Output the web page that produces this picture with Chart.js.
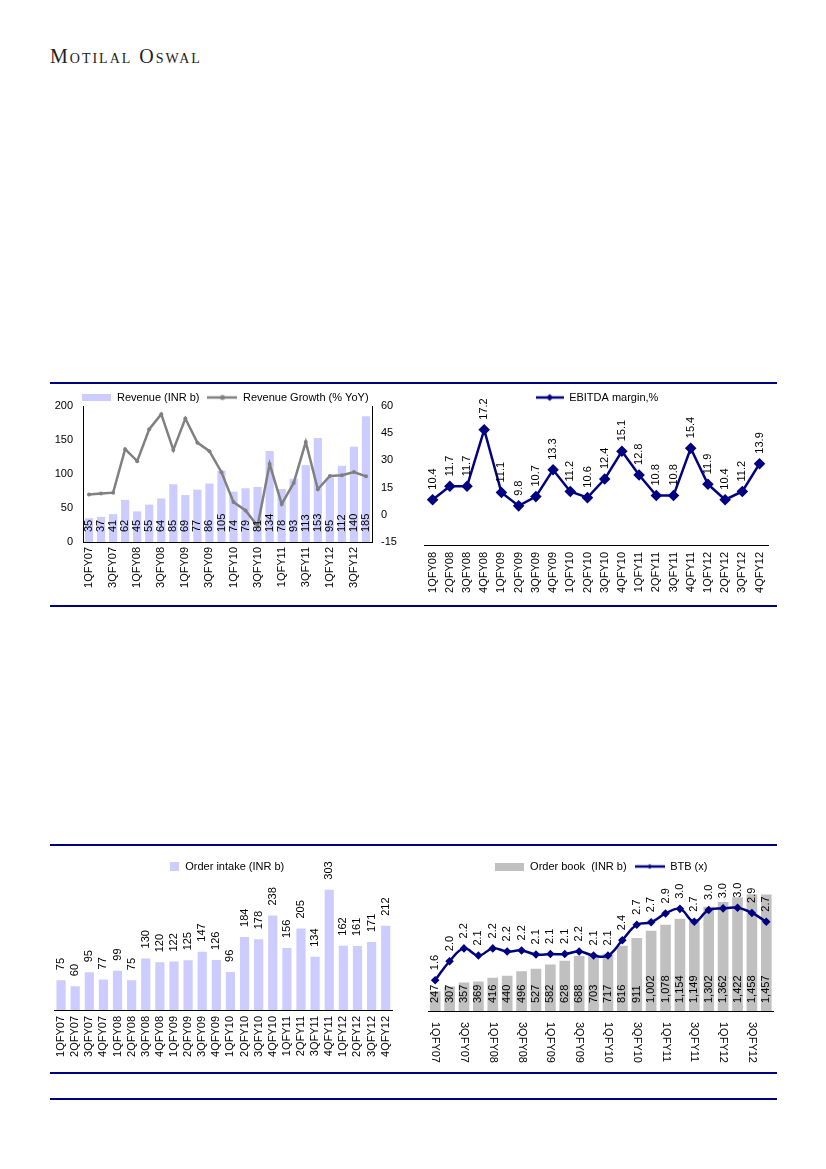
<!DOCTYPE html>
<html>
<head>
<meta charset="utf-8">
<script src="https://cdn.jsdelivr.net/npm/chart.js@4.4.0/dist/chart.umd.min.js"></script>
<style>
  body { margin: 0; background: #fff; }
  #page { position: relative; width: 826px; height: 1169px; background: #fff; overflow: hidden; }
  .brand { position: absolute; left: 50px; top: 45px; font-family: "Liberation Serif", serif; font-size: 20px; font-variant: small-caps; letter-spacing: 2px; color: #222; }
  .rule { position: absolute; left: 50px; width: 727px; height: 1.5px; background: #000080; z-index: 2; }
  canvas { position: absolute; }
</style>
</head>
<body>
<div id="page">
  <div class="brand">Motilal Oswal</div>
  <div class="rule" style="top:382px"></div>
  <div class="rule" style="top:605px"></div>
  <div class="rule" style="top:844px"></div>
  <div class="rule" style="top:1072px"></div>
  <div class="rule" style="top:1098px"></div>
  <canvas id="revChart" width="360" height="226" style="left:45px;top:380px;width:360px;height:226px"></canvas>
  <canvas id="marginChart" width="365" height="226" style="left:415px;top:380px;width:365px;height:226px"></canvas>
  <canvas id="intakeChart" width="360" height="222" style="left:45px;top:849px;width:360px;height:222px"></canvas>
  <canvas id="bookChart" width="365" height="222" style="left:415px;top:849px;width:365px;height:222px"></canvas>
</div>
<script>
// quarters FY07 - FY12
const quarters = ['1QFY07', '2QFY07', '3QFY07', '4QFY07', '1QFY08', '2QFY08', '3QFY08', '4QFY08',
  '1QFY09', '2QFY09', '3QFY09', '4QFY09', '1QFY10', '2QFY10', '3QFY10', '4QFY10',
  '1QFY11', '2QFY11', '3QFY11', '4QFY11', '1QFY12', '2QFY12', '3QFY12', '4QFY12'];
const marginQuarters = ['1QFY08', '2QFY08', '3QFY08', '4QFY08', '1QFY09', '2QFY09', '3QFY09', '4QFY09',
  '1QFY10', '2QFY10', '3QFY10', '4QFY10', '1QFY11', '2QFY11', '3QFY11', '4QFY11',
  '1QFY12', '2QFY12', '3QFY12', '4QFY12'];

const revenue = [35, 37, 41, 62, 45, 55, 64, 85, 69, 77, 86, 105, 74, 79, 81, 134, 78, 93, 113, 153, 95, 112, 140, 185];
const revenueGrowth = [11.2, 11.7, 12.2, 36.2, 29.6, 47.2, 55.5, 35.8, 53.1, 39.8, 35.1, 23.5,
  7.0, 2.4, -6.2, 28.0, 5.9, 17.6, 40.1, 14.1, 21.4, 21.8, 23.6, 21.2];
const ebitdaMargin = [10.4, 11.7, 11.7, 17.2, 11.1, 9.8, 10.7, 13.3, 11.2, 10.6, 12.4, 15.1,
  12.8, 10.8, 10.8, 15.4, 11.9, 10.4, 11.2, 13.9];
const orderIntake = [75, 60, 95, 77, 99, 75, 130, 120, 122, 125, 147, 126, 96, 184, 178, 238, 156, 205, 134, 303, 162, 161, 171, 212];
const orderBook = [247, 307, 357, 369, 416, 440, 496, 527, 582, 628, 688, 703, 717, 816, 911, 1002, 1078, 1154, 1149, 1302, 1362, 1422, 1458, 1457];
const btb = [1.60, 1.97, 2.22, 2.08, 2.22, 2.16, 2.18, 2.10, 2.11, 2.11, 2.16, 2.08,
  2.08, 2.38, 2.68, 2.73, 2.90, 2.99, 2.74, 2.97, 3.00, 3.01, 2.91, 2.74];

const LAV = '#ccccff';
const GREY_BAR = '#c0c0c0';
const NAVY = '#000080';
const FONT = '"Liberation Sans", Arial, sans-serif';

Chart.defaults.font.family = FONT;
Chart.defaults.font.size = 11;
Chart.defaults.color = '#000';
Chart.defaults.animation = false;
Chart.defaults.plugins.tooltip.enabled = false;

// legend icons
function boxIcon(color, w, h) {
  const c = document.createElement('canvas');
  c.width = w; c.height = h;
  const g = c.getContext('2d');
  g.fillStyle = color;
  g.fillRect(0, 0, w, h);
  return c;
}
function lineIcon(color, w, marker, r) {
  const c = document.createElement('canvas');
  c.width = w; c.height = 10;
  const g = c.getContext('2d');
  g.strokeStyle = color; g.lineWidth = 2.5;
  g.beginPath(); g.moveTo(0, 5); g.lineTo(w, 5); g.stroke();
  g.fillStyle = color;
  g.beginPath();
  if (marker === 'diamond') {
    g.moveTo(w / 2, 5 - r); g.lineTo(w / 2 + r, 5); g.lineTo(w / 2, 5 + r); g.lineTo(w / 2 - r, 5); g.closePath();
  } else {
    g.arc(w / 2, 5, r, 0, Math.PI * 2);
  }
  g.fill();
  return c;
}
function legendWith(icons, width) {
  return {
    position: 'top',
    maxHeight: 22,
    labels: {
      usePointStyle: true,
      pointStyleWidth: width,
      padding: 8,
      color: '#000',
      sort: (a, b) => a.datasetIndex - b.datasetIndex,
      generateLabels(chart) {
        const items = Chart.defaults.plugins.legend.labels.generateLabels(chart);
        items.forEach(it => { it.pointStyle = icons[it.datasetIndex]; });
        return items;
      }
    }
  };
}

// vertical value labels (bottom-to-top text)
const rotatedLabels = {
  id: 'rotatedLabels',
  afterDatasetsDraw(chart) {
    const ctx = chart.ctx;
    ctx.save();
    ctx.font = '11px ' + FONT;
    ctx.fillStyle = '#000';
    ctx.textAlign = 'left';
    ctx.textBaseline = 'middle';
    chart.data.datasets.forEach((ds, i) => {
      if (!ds.labelMode) return;
      const meta = chart.getDatasetMeta(i);
      meta.data.forEach((el, j) => {
        const v = ds.data[j];
        const text = ds.labelFormat ? ds.labelFormat(v) : String(v);
        const y = ds.labelMode === 'base' ? el.base - ds.labelGap : el.y - ds.labelGap;
        ctx.save();
        ctx.translate(el.x, y);
        ctx.rotate(-Math.PI / 2);
        ctx.fillText(text, 0, 0);
        ctx.restore();
      });
    });
    ctx.restore();
  }
};

const noGrid = { display: false, drawTicks: false };
const axisBorder = { color: '#000', width: 1 };

// Revenue and growth
new Chart(document.getElementById('revChart'), {
  data: {
    labels: quarters,
    datasets: [
      { type: 'bar', label: 'Revenue (INR b)', data: revenue, yAxisID: 'y', backgroundColor: LAV,
        barPercentage: 0.68, categoryPercentage: 1, order: 1, labelMode: 'base', labelGap: 10 },
      { type: 'line', label: 'Revenue Growth (% YoY)', data: revenueGrowth, yAxisID: 'y1', borderColor: '#808080',
        backgroundColor: '#808080', borderWidth: 2.5, pointRadius: 2, pointBorderWidth: 0, tension: 0, order: 0 }
    ]
  },
  options: {
    responsive: false,
    layout: { padding: { top: 4, left: 0, right: 0, bottom: 0 } },
    plugins: { legend: legendWith([boxIcon(LAV, 29, 7), lineIcon('#808080', 30, 'circle', 2.5)], 30) },
    scales: {
      x: { offset: true, grid: noGrid, border: axisBorder,
        ticks: { autoSkip: false, minRotation: 90, maxRotation: 90, padding: 5,
          callback(v, i) { return i % 2 === 0 ? this.getLabelForValue(v) : ''; } },
        afterFit(s) { s.height = 64; } },
      y: { position: 'left', min: 0, max: 200, grid: noGrid, border: axisBorder,
        ticks: { stepSize: 50, padding: 10 }, afterFit(s) { s.width = 38; } },
      y1: { position: 'right', min: -15, max: 60, grid: noGrid, border: axisBorder,
        ticks: { stepSize: 15, padding: 9 }, afterFit(s) { s.width = 33; } }
    }
  },
  plugins: [rotatedLabels]
});

// EBITDA margin
new Chart(document.getElementById('marginChart'), {
  type: 'line',
  data: {
    labels: marginQuarters,
    datasets: [
      { label: 'EBITDA margin,%', data: ebitdaMargin, borderColor: NAVY, backgroundColor: NAVY,
        borderWidth: 2.5, pointStyle: 'rectRot', pointRadius: 4, tension: 0,
        labelMode: 'top', labelGap: 10, labelFormat: v => v.toFixed(1) }
    ]
  },
  options: {
    responsive: false,
    layout: { padding: { top: 4, left: 9, right: 10, bottom: 0 } },
    plugins: { legend: legendWith([lineIcon(NAVY, 28, 'diamond', 3.5)], 28) },
    scales: {
      x: { offset: true, grid: noGrid, border: axisBorder,
        ticks: { autoSkip: false, minRotation: 90, maxRotation: 90, padding: 7 },
        afterFit(s) { s.height = 61; } },
      y: { display: false, min: 6, max: 19.5 }
    }
  },
  plugins: [rotatedLabels]
});

// Order intake
new Chart(document.getElementById('intakeChart'), {
  type: 'bar',
  data: {
    labels: quarters,
    datasets: [
      { label: 'Order intake (INR b)', data: orderIntake, backgroundColor: LAV,
        barPercentage: 0.65, categoryPercentage: 1, labelMode: 'top', labelGap: 10 }
    ]
  },
  options: {
    responsive: false,
    layout: { padding: { top: 4, left: 9, right: 5, bottom: 0 } },
    plugins: { legend: legendWith([boxIcon(LAV, 9, 9)], 10) },
    scales: {
      x: { grid: noGrid, border: axisBorder,
        ticks: { autoSkip: false, minRotation: 90, maxRotation: 90, padding: 6 },
        afterFit(s) { s.height = 61; } },
      y: { display: false, min: 0, max: 340 }
    }
  },
  plugins: [rotatedLabels]
});

// Order book and book-to-bill, tick labels read top-to-bottom
const downTicks = {
  id: 'downTicks',
  afterDraw(chart) {
    const s = chart.scales.x;
    const ctx = chart.ctx;
    ctx.save();
    ctx.font = '11px ' + FONT;
    ctx.fillStyle = '#000';
    ctx.textAlign = 'left';
    ctx.textBaseline = 'middle';
    quarters.forEach((q, i) => {
      if (i % 2) return;
      ctx.save();
      ctx.translate(s.getPixelForValue(i), s.top + 11);
      ctx.rotate(Math.PI / 2);
      ctx.fillText(q, 0, 0);
      ctx.restore();
    });
    ctx.restore();
  }
};

new Chart(document.getElementById('bookChart'), {
  data: {
    labels: quarters,
    datasets: [
      { type: 'bar', label: 'Order book  (INR b)', data: orderBook, yAxisID: 'y', backgroundColor: GREY_BAR,
        barPercentage: 0.74, categoryPercentage: 1, order: 1, labelMode: 'base', labelGap: 8,
        labelFormat: v => v.toLocaleString('en-US') },
      { type: 'line', label: 'BTB (x)', data: btb, yAxisID: 'y1', borderColor: NAVY, backgroundColor: NAVY,
        borderWidth: 2.5, pointStyle: 'rectRot', pointRadius: 2.5, tension: 0.4, order: 0,
        labelMode: 'top', labelGap: 10, labelFormat: v => v.toFixed(1) }
    ]
  },
  options: {
    responsive: false,
    layout: { padding: { top: 4, left: 13, right: 6, bottom: 0 } },
    plugins: { legend: legendWith([boxIcon(GREY_BAR, 29, 8), lineIcon(NAVY, 30, 'diamond', 2.5)], 30) },
    scales: {
      x: { offset: true, grid: noGrid, border: axisBorder, ticks: { display: false },
        afterFit(s) { s.height = 60; } },
      y: { display: false, min: 0, max: 1700 },
      y1: { display: false, position: 'right', min: 1, max: 3.65 }
    }
  },
  plugins: [rotatedLabels, downTicks]
});
</script>
</body>
</html>
